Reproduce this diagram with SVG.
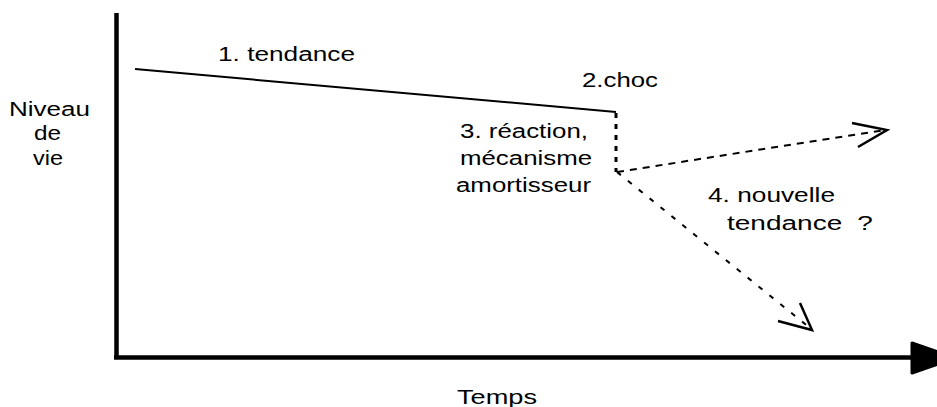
<svg xmlns="http://www.w3.org/2000/svg" width="937" height="407" viewBox="0 0 937 407">
<style>
text{font-family:"Liberation Sans",Arial,sans-serif;font-size:20px;fill:#000}
.axis{stroke:#000;stroke-width:4.5;fill:none}
.trend{stroke:#000;stroke-width:2;fill:none}
.dot{stroke:#000;stroke-width:3;fill:none;stroke-dasharray:5 6}
.dash{stroke:#000;stroke-width:2;fill:none;stroke-dasharray:7 6}
.dash2{stroke:#000;stroke-width:2;fill:none;stroke-dasharray:5 9}
.head{stroke:#000;stroke-width:2.5;fill:none}
</style>
<rect width="937" height="407" fill="#fff"/>
<g id="connectors">
  <line class="axis" x1="116.5" y1="13" x2="116.5" y2="359"/>
  <line class="axis" x1="114" y1="357.5" x2="914" y2="357.5"/>
  <polygon points="912,343 956,358 912,373" fill="#000" stroke="#000" stroke-width="3" stroke-linejoin="round"/>
  <line class="trend" x1="135" y1="69" x2="616" y2="112"/>
  <line class="dot" x1="616" y1="113" x2="616" y2="172"/>
  <line class="dash" x1="617" y1="172" x2="885" y2="130"/>
  <polyline class="head" points="852,123 887,130 858,147"/>
  <line class="dash2" x1="617" y1="172" x2="810" y2="328"/>
  <polyline class="head" points="778,321 812,330 800,303"/>
</g>
<g id="axis-y-label">
  <text x="9" y="116" textLength="81" lengthAdjust="spacingAndGlyphs">Niveau</text>
  <text x="34" y="140" textLength="27" lengthAdjust="spacingAndGlyphs">de</text>
  <text x="33" y="165" textLength="30" lengthAdjust="spacingAndGlyphs">vie</text>
</g>
<g id="axis-x-label">
  <text x="457" y="404" textLength="80" lengthAdjust="spacingAndGlyphs">Temps</text>
</g>
<g id="label-1">
  <text x="218" y="61" textLength="137" lengthAdjust="spacingAndGlyphs">1. tendance</text>
</g>
<g id="label-2">
  <text x="582" y="87" textLength="76" lengthAdjust="spacingAndGlyphs">2.choc</text>
</g>
<g id="label-3">
  <text x="460" y="138" textLength="128" lengthAdjust="spacingAndGlyphs">3. réaction,</text>
  <text x="460" y="165" textLength="132" lengthAdjust="spacingAndGlyphs">mécanisme</text>
  <text x="456" y="192" textLength="135" lengthAdjust="spacingAndGlyphs">amortisseur</text>
</g>
<g id="label-4">
  <text x="708" y="202" textLength="127" lengthAdjust="spacingAndGlyphs">4. nouvelle</text>
  <text transform="translate(727,230) scale(1.4,1)" x="0" y="0">tendance <tspan x="93.1">?</tspan></text>
</g>
</svg>
